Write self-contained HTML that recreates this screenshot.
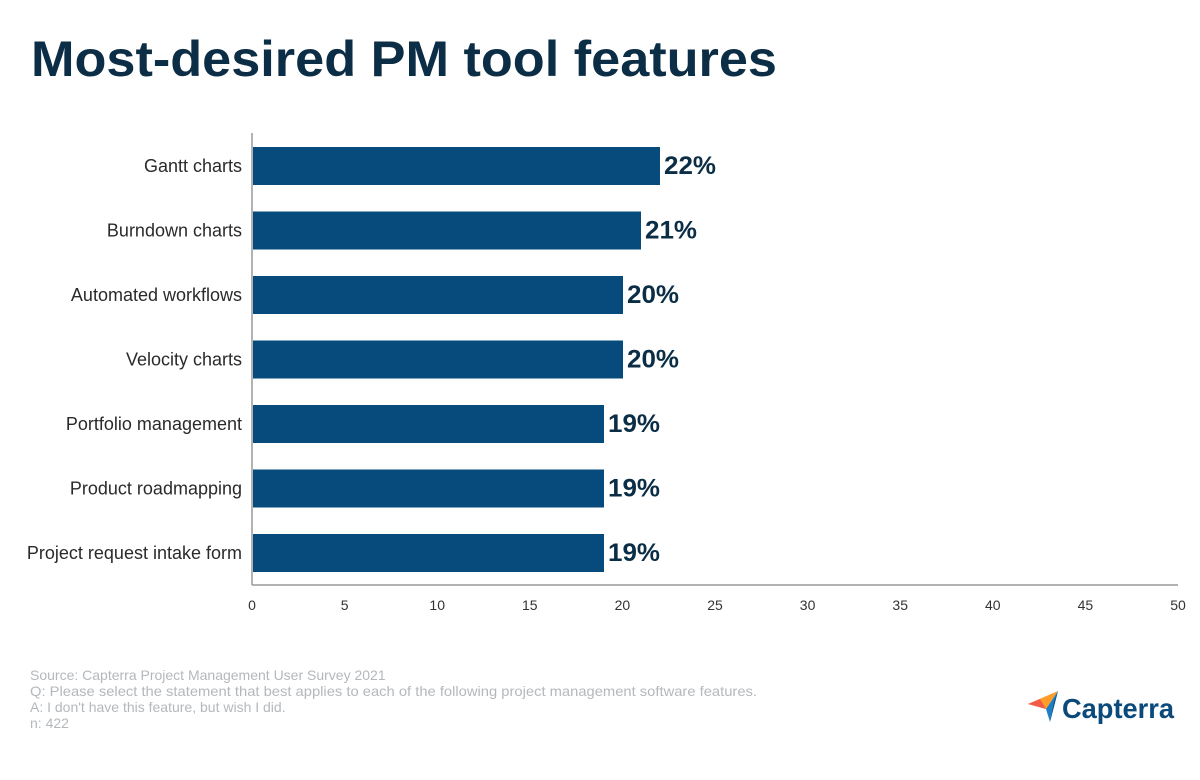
<!DOCTYPE html>
<html><head><meta charset="utf-8"><style>
html,body{margin:0;padding:0;background:#fff;}
svg{display:block;}
</style></head><body>
<svg width="1200" height="780" xmlns="http://www.w3.org/2000/svg" font-family="Liberation Sans, sans-serif">
<text x="31" y="76" font-size="50" font-weight="bold" fill="#0b2d45" textLength="746" lengthAdjust="spacingAndGlyphs">Most-desired PM tool features</text>
<line x1="252" y1="133" x2="252" y2="585" stroke="#999" stroke-width="1.5"/>
<line x1="252" y1="585" x2="1178" y2="585" stroke="#999" stroke-width="1.5"/>
<g fill="#064b7c">
<rect x="253" y="147" width="407" height="38"/>
<rect x="253" y="211.5" width="388" height="38"/>
<rect x="253" y="276" width="370" height="38"/>
<rect x="253" y="340.5" width="370" height="38"/>
<rect x="253" y="405" width="351" height="38"/>
<rect x="253" y="469.5" width="351" height="38"/>
<rect x="253" y="534" width="351" height="38"/>
</g>
<g font-size="25" font-weight="bold" fill="#0b2d45" lengthAdjust="spacingAndGlyphs">
<text x="664" y="174" textLength="52" lengthAdjust="spacingAndGlyphs">22%</text>
<text x="645" y="238.5" textLength="52" lengthAdjust="spacingAndGlyphs">21%</text>
<text x="627" y="303" textLength="52" lengthAdjust="spacingAndGlyphs">20%</text>
<text x="627" y="367.5" textLength="52" lengthAdjust="spacingAndGlyphs">20%</text>
<text x="608" y="432" textLength="52" lengthAdjust="spacingAndGlyphs">19%</text>
<text x="608" y="496.5" textLength="52" lengthAdjust="spacingAndGlyphs">19%</text>
<text x="608" y="561" textLength="52" lengthAdjust="spacingAndGlyphs">19%</text>
</g>
<g font-size="18" fill="#2a2a2a" text-anchor="end">
<text x="242" y="172">Gantt charts</text>
<text x="242" y="236.5">Burndown charts</text>
<text x="242" y="301">Automated workflows</text>
<text x="242" y="365.5">Velocity charts</text>
<text x="242" y="430">Portfolio management</text>
<text x="242" y="494.5">Product roadmapping</text>
<text x="242" y="559">Project request intake form</text>
</g>
<g font-size="14" fill="#333" text-anchor="middle">
<text x="252" y="610">0</text><text x="344.6" y="610">5</text><text x="437.2" y="610">10</text>
<text x="529.8" y="610">15</text><text x="622.4" y="610">20</text><text x="715" y="610">25</text>
<text x="807.6" y="610">30</text><text x="900.2" y="610">35</text><text x="992.8" y="610">40</text>
<text x="1085.4" y="610">45</text><text x="1178" y="610">50</text>
</g>
<g font-size="14" fill="#b4b8bc">
<text x="30" y="680">Source: Capterra Project Management User Survey 2021</text>
<text x="30" y="696" textLength="727" lengthAdjust="spacingAndGlyphs">Q: Please select the statement that best applies to each of the following project management software features.</text>
<text x="30" y="712">A: I don't have this feature, but wish I did.</text>
<text x="30" y="728">n: 422</text>
</g>
<polygon points="1028,704 1058,691 1046,709" fill="#ff9d28"/>
<polygon points="1028,704 1046,709 1040,699" fill="#f25a4a"/>
<polygon points="1058,691 1046,709 1050,722" fill="#1e7fc6"/>
<polygon points="1058,691 1050,722 1054,702" fill="#0d4a7a"/>
<text x="1062" y="718" font-size="28" font-weight="bold" fill="#0b4a7a" textLength="112" lengthAdjust="spacingAndGlyphs">Capterra</text>
</svg>
</body></html>
